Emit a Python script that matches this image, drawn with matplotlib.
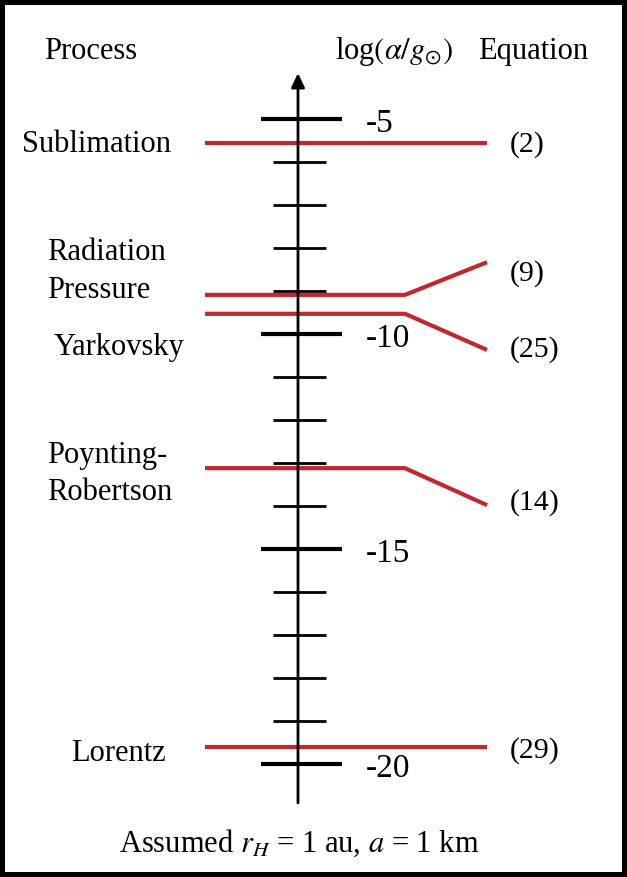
import numpy as np
import matplotlib
matplotlib.use("Agg")
import matplotlib.pyplot as plt

plt.rcParams['font.family'] = ['Liberation Serif', 'DejaVu Serif']
plt.rcParams['mathtext.fontset'] = 'stix'

# --- data: log(alpha/g_sun) levels ---
processes = ["Sublimation", "Radiation\nPressure", "Yarkovsky", "Poynting-\nRobertson", "Lorentz"]
level_at_axis = [-5.56, -9.09, -9.53, -13.12, -19.6]
level_at_end = [-5.56, -8.33, -10.37, -13.98, -19.6]
equations = ["(2)", "(9)", "(25)", "(14)", "(29)"]
major_ticks = [-5, -10, -15, -20]
minor_ticks = [v for v in range(-6, -20, -1) if v % 5 != 0]

# --- layout (figure fractions across, log units up) ---
W, H = 627, 877
PX_PER_UNIT = 43.0


def yv(py):
    # pixel row -> log units, used only to place the text
    return -5 - (py - 119) / PX_PER_UNIT


x_axis = 298 / W
x_start, x_kink, x_end = 205 / W, 405 / W, 487 / W

fig = plt.figure(figsize=(W / 100, H / 100), dpi=100)
ax = fig.add_axes([0, 0, 1, 1])
ax.set_xlim(0, 1)
ax.set_ylim(yv(H), yv(0))
ax.axis("off")

# vertical axis with arrow
ax.annotate("", xy=(x_axis, yv(73)), xytext=(x_axis, yv(803)),
            arrowprops=dict(arrowstyle="-|>,head_length=0.85,head_width=0.4",
                            color="black", lw=2, shrinkA=0, shrinkB=0))

# ticks
for v in major_ticks:
    ax.plot([261 / W, 342 / W], [v, v], color="black", lw=3, solid_capstyle="butt")
    ax.text(366 / W, v - 0.3, str(v), fontsize=24, ha="left", va="baseline")
for v in minor_ticks:
    ax.plot([273 / W, 326 / W], [v, v], color="black", lw=2, solid_capstyle="butt")

# process lines
red = "#c1272d"
label_x = [22 / W, 47 / W, 54 / W, 47 / W, 71 / W]
label_base = [152, 260, 355, 463, 761]   # baseline of first text line
line_gap = 37.5
eq_base = [152, 281, 357, 510, 758]
for i, name in enumerate(processes):
    y0, y1 = level_at_axis[i], level_at_end[i]
    ax.plot([x_start, x_kink, x_end], [y0, y0, y1], color=red, lw=3,
            solid_capstyle="butt", solid_joinstyle="miter")
    for k, part in enumerate(name.split("\n")):
        ax.text(label_x[i], yv(label_base[i] + k * line_gap), part, fontsize=22,
                ha="left", va="baseline")
    ax.text(510 / W, yv(eq_base[i]), equations[i], fontsize=21.5, ha="left", va="baseline")

# headers
ax.text(44 / W, yv(59), "Process", fontsize=22, ha="left", va="baseline")
ax.text(335 / W, yv(59), r"log$(\alpha/g_{\odot})$", fontsize=22, ha="left", va="baseline")
ax.text(478 / W, yv(59), "Equation", fontsize=22, ha="left", va="baseline")

# footnote
ax.text(299 / W, yv(852), r"Assumed $r_H$ = 1 au, $a$ = 1 km",
        fontsize=22, ha="center", va="baseline")

fig.patch.set_edgecolor("black")
fig.patch.set_linewidth(7)

fig.savefig("out.png", dpi=100, edgecolor=fig.get_edgecolor())
